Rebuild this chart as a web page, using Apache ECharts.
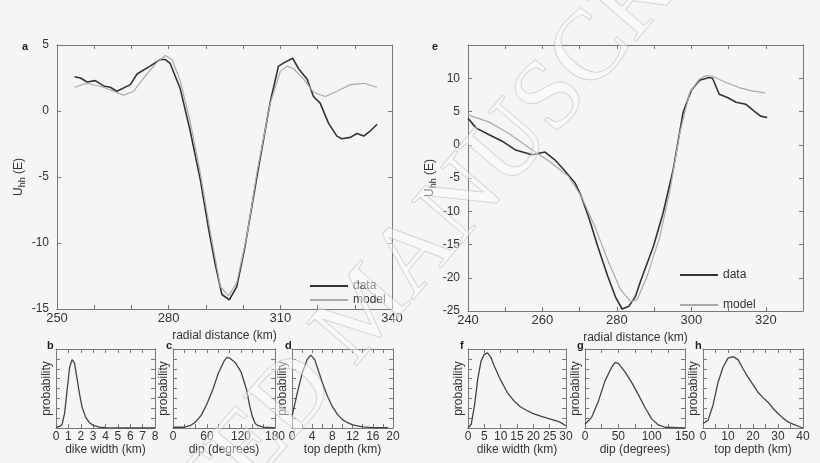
<!DOCTYPE html>
<html><head><meta charset="utf-8">
<script src="https://cdn.jsdelivr.net/npm/echarts@6/dist/echarts.min.js"></script>
<style>html,body{margin:0;background:#f5f5f5}#c{width:820px;height:463px}</style>
</head><body><div id="c"></div>
<script>
// Panel a: data and model
var aDataX = [254.7,256.3,258.1,260.3,262.5,264.3,266.1,269.7,271.5,275,277.8,279.1,280.4,283.1,285.7,288.5,290.7,292.5,294.3,296.3,298.3,300.5,303.7,307.3,309.5,311.3,313.3,314.9,317.2,318.9,320.7,322.9,325.2,326.5,328.8,330.6,332.4,334.2,336];
var aDataY = [2.6,2.5,2.2,2.3,1.9,1.8,1.5,2.0,2.8,3.4,3.9,3.9,3.6,1.7,-1.4,-5.2,-8.9,-11.6,-13.9,-14.3,-13.3,-10.3,-5,0.7,3.4,3.7,4.0,3.2,2.4,1.1,0.6,-0.9,-1.9,-2.1,-2.0,-1.7,-1.9,-1.5,-1.0];
var aModelX = [254.7,258.1,262.5,267.9,270.6,273.3,276.9,279.1,280.9,283.1,285.7,288.5,291.2,293.9,296.1,298.3,301,303.7,307.3,310,311.8,313.6,316.3,319,322.1,325.2,328.8,332.4,336];
var aModelY = [1.8,2.1,1.8,1.2,1.5,2.5,3.7,4.2,3.9,2.3,-0.7,-4.7,-9.2,-13.3,-14,-13,-9.5,-4.7,0.6,3.0,3.4,3.2,2.4,1.4,1.1,1.5,2.0,2.1,1.8];
// Panel e: data and model
var eDataX = [240,242.2,245.7,249.3,252.8,257.2,260.7,263.4,266,268.7,270.4,272.6,274.8,277.5,279.7,281.4,283.2,285,286.3,289.8,292.4,295.1,297.8,300,302.2,304.8,305.7,307.5,309.7,312,314.6,316.8,318.6,320.4];
var eDataY = [4.0,2.5,1.5,0.5,-0.8,-1.5,-1.1,-2.3,-3.9,-5.7,-7.7,-11.2,-15.2,-19.7,-23,-24.7,-24.3,-22.8,-20.6,-15.3,-10.3,-3.8,4.9,8.2,9.7,10.1,10,7.6,7.1,6.4,6.1,5.1,4.3,4.1];
var eModelX = [240,245.7,251,256.3,261.6,266.9,270.4,274,277.5,281,283.7,285.4,288.1,291.6,294.3,296.9,299.6,302.2,304,305.7,309.2,312.8,316.3,319.8];
var eModelY = [4.5,3.4,1.7,-0.4,-2.4,-4.7,-7.7,-12.2,-17.3,-21.8,-23.6,-23.3,-19.8,-13.7,-6.7,1.8,7.9,9.9,10.4,10.3,9.4,8.6,8.1,7.8];
// Probability distributions
var bX = [0,0.3,0.5,0.7,0.9,1.1,1.3,1.5,1.7,1.9,2.1,2.4,2.7,3,3.5,4,5,6,8];
var bY = [0.01,0.02,0.05,0.2,0.5,0.8,0.9,0.85,0.65,0.45,0.28,0.14,0.07,0.035,0.01,0.004,0.001,0,0];
var cX = [0,20,30,40,50,60,70,80,90,95,100,110,120,130,135,140,145,150,160,180];
var cY = [0.01,0.01,0.03,0.08,0.17,0.32,0.5,0.72,0.88,0.93,0.92,0.86,0.74,0.5,0.3,0.15,0.06,0.03,0.01,0];
var dX = [0,1,2,3,3.7,4.5,5,6,7,8,9,10,11,12,14,16,19];
var dY = [0.15,0.45,0.72,0.9,0.96,0.9,0.8,0.6,0.42,0.28,0.18,0.11,0.07,0.04,0.015,0.006,0.003];
var fX = [0,1,2,3,4,5,6,7,8,10,12,14,16,18,20,22,25,28,30];
var fY = [0,0.05,0.3,0.65,0.88,0.97,0.99,0.93,0.82,0.63,0.47,0.36,0.28,0.23,0.19,0.16,0.12,0.08,0.03];
var gX = [0,10,20,30,40,45,50,60,70,80,90,100,110,120,150];
var gY = [0.05,0.14,0.35,0.62,0.8,0.86,0.85,0.74,0.6,0.44,0.27,0.12,0.04,0.01,0];
var hX = [0,2,4,6,8,10,12,14,16,18,20,22,24,26,28,30,32,34,36,40];
var hY = [0.06,0.1,0.3,0.6,0.8,0.92,0.94,0.9,0.78,0.67,0.57,0.47,0.4,0.34,0.26,0.19,0.13,0.08,0.05,0];

function pairs(x, y) { return x.map(function (v, i) { return [v, y[i]]; }); }

var chart = echarts.init(document.getElementById('c'));
var grids = [], xAxes = [], yAxes = [], series = [];
var axisLine = { onZero: false, lineStyle: { color: '#777' } };
var tick = { inside: true, length: 4, lineStyle: { color: '#777' } };
var txt = { color: '#333', fontFamily: 'Liberation Sans', fontSize: 12 };

// Declare panel builder
function panel(box, x, y) {
    var gi = grids.length;
    grids.push(box);
    var xi = xAxes.length, yi = yAxes.length;
    xAxes.push({
        type: 'value', gridIndex: gi, min: x.min, max: x.max, interval: x.interval,
        name: x.name, nameLocation: 'middle', nameGap: x.gap || 14, nameTextStyle: txt,
        axisLine: axisLine, axisTick: tick, splitLine: { show: false },
        axisLabel: { margin: 3, color: '#333', fontFamily: 'Liberation Sans', fontSize: x.size || 12,
            formatter: function (v) { return ((v - x.min) % x.every === 0 && v <= x.lastLabel) ? v : ''; } }
    });
    xAxes.push({
        type: 'value', gridIndex: gi, position: 'top', min: x.min, max: x.max, interval: x.interval,
        axisLine: axisLine, axisTick: tick, axisLabel: { show: false }, splitLine: { show: false }
    });
    yAxes.push({
        type: 'value', gridIndex: gi, min: y.min, max: y.max, interval: y.interval,
        name: y.name, nameLocation: 'middle', nameGap: y.gap, nameRotate: 90, nameTextStyle: txt,
        axisLine: axisLine, axisTick: tick, splitLine: { show: false },
        axisLabel: { show: y.labels, margin: 8, color: '#333', fontFamily: 'Liberation Sans', fontSize: 12,
            formatter: function (v) { return v > y.lastLabel ? '' : v; } }
    });
    yAxes.push({
        type: 'value', gridIndex: gi, position: 'right', min: y.min, max: y.max, interval: y.interval,
        axisLine: axisLine, axisTick: tick, axisLabel: { show: false }, splitLine: { show: false }
    });
    return { x: xi, y: yi };
}

function line(ax, name, data, color, width) {
    series.push({ name: name, type: 'line', xAxisIndex: ax.x, yAxisIndex: ax.y, data: data,
        showSymbol: false, lineStyle: { color: color, width: width }, itemStyle: { color: color } });
}

var yName = '{a|U}{s|hh}{a| (E)}';
var yNameStyle = { color: '#333', fontFamily: 'Liberation Sans', fontSize: 12,
    rich: { a: { fontSize: 12, color: '#333' }, s: { fontSize: 9, color: '#333', padding: [8, 0, 0, 0] } } };

var pa = panel({ left: 57, top: 45, width: 335, height: 264 },
    { min: 250, max: 340, interval: 10, every: 30, lastLabel: 340, name: 'radial distance (km)', gap: 16, size: 13 },
    { min: -15, max: 5, interval: 5, labels: true, lastLabel: 5, name: yName, gap: 30 });
yAxes[pa.y].nameTextStyle = yNameStyle;
line(pa, 'data', pairs(aDataX, aDataY), '#333', 1.6);
line(pa, 'model', pairs(aModelX, aModelY), '#aaa', 1.2);

var pe = panel({ left: 468, top: 45, width: 335, height: 266 },
    { min: 240, max: 330, interval: 10, every: 20, lastLabel: 320, name: 'radial distance (km)', gap: 14, size: 13 },
    { min: -25, max: 15, interval: 5, labels: true, lastLabel: 10, name: yName, gap: 30 });
yAxes[pe.y].nameTextStyle = yNameStyle;
line(pe, 'data', pairs(eDataX, eDataY), '#333', 1.6);
line(pe, 'model', pairs(eModelX, eModelY), '#aaa', 1.2);

var small = [
    [{ left: 56, width: 99 }, 0, 8, 1, 1, 'dike width (km)', bX, bY],
    [{ left: 173, width: 102 }, 0, 180, 20, 60, 'dip (degrees)', cX, cY],
    [{ left: 292, width: 101 }, 0, 20, 2, 4, 'top depth (km)', dX, dY],
    [{ left: 468, width: 98 }, 0, 30, 5, 5, 'dike width (km)', fX, fY],
    [{ left: 585, width: 100 }, 0, 150, 25, 50, 'dip (degrees)', gX, gY],
    [{ left: 703, width: 100 }, 0, 40, 5, 10, 'top depth (km)', hX, hY]
];
small.forEach(function (s) {
    var p = panel({ left: s[0].left, width: s[0].width, top: 349, height: 79 },
        { min: s[1], max: s[2], interval: s[3], every: s[4], lastLabel: s[2], name: s[5], gap: 15 },
        { min: 0, max: 1.04, interval: 0.13, labels: false, lastLabel: 9, name: 'probability', gap: 3 });
    line(p, 'p', pairs(s[6], s[7]), '#444', 1.3);
});

// Panel letters
var letters = [['a', 22, 41], ['e', 432, 41], ['b', 47, 340], ['c', 166, 340], ['d', 285, 340], ['f', 460, 340], ['g', 577, 340], ['h', 695, 340]];
var graphic = letters.map(function (l) {
    return { type: 'text', left: l[1], top: l[2], style: { text: l[0], font: 'bold 11px Liberation Sans', fill: '#222' } };
});
graphic.push({ type: 'text', x: 368, y: 312, rotation: 0.86, z: 100,
    style: { text: 'ACCEPTED MANUSCRIPT', font: '100px Liberation Serif', fill: 'rgba(255,255,255,0.45)',
        stroke: 'rgba(160,160,160,0.5)', lineWidth: 1, align: 'center', verticalAlign: 'middle' } });

chart.setOption({
    backgroundColor: '#f5f5f5',
    animation: false,
    grid: grids,
    xAxis: xAxes,
    yAxis: yAxes,
    legend: [{
        left: 305, top: 275, orient: 'vertical', itemGap: 2, itemWidth: 38, itemHeight: 2, icon: 'rect',
        data: ['data', 'model'], textStyle: txt
    }, {
        left: 675, top: 264, orient: 'vertical', itemGap: 18, itemWidth: 38, itemHeight: 2, icon: 'rect',
        data: ['data', 'model'], textStyle: txt
    }],
    series: series,
    graphic: graphic
});
</script>
</body></html>
